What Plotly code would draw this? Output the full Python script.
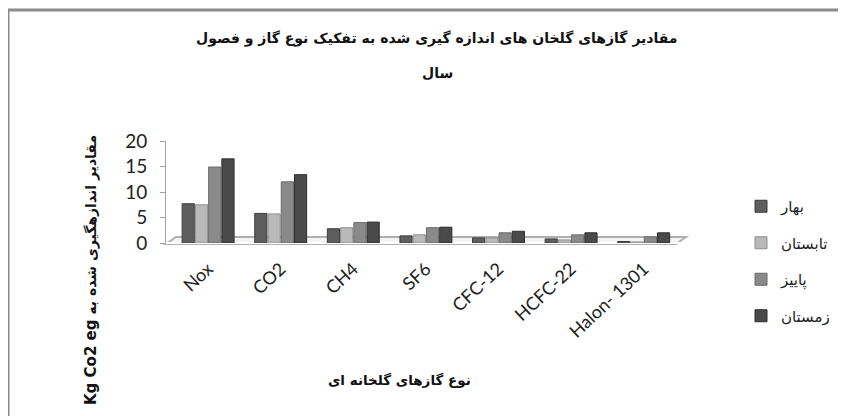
import plotly.graph_objects as go

categories = ["Nox", "CO2", "CH4", "SF6", "CFC-12", "HCFC-22", "Halon- 1301"]
series_names = ["بهار", "تابستان", "پاییز", "زمستان"]
spring = [7.7, 5.8, 2.8, 1.4, 1.0, 0.8, 0.3]
summer = [7.5, 5.7, 3.0, 1.6, 1.0, 0.6, 0.2]
autumn = [14.9, 12.0, 4.0, 3.0, 2.0, 1.6, 1.2]
winter = [16.5, 13.4, 4.1, 3.1, 2.3, 2.0, 2.0]
colors = ["#5e5e5e", "#b9b9b9", "#8a8a8a", "#4a4a4a"]
line_colors = ["#3e3e3e", "#909090", "#6a6a6a", "#2e2e2e"]

W, H = 846, 416
OFF = 8  # page body margin
L, R, T, B = 166 - OFF, 174, 141 - OFF, 181
PW, PH = W - L - R, H - T - B


def wx(x):
    """window pixel x -> paper"""
    return (x - OFF - L) / PW


def wy(y):
    """window pixel y -> paper"""
    return (H - B - (y - OFF)) / PH


fig = go.Figure()
for name, vals, c, lc in zip(series_names, [spring, summer, autumn, winter], colors, line_colors):
    fig.add_trace(go.Bar(
        x=categories, y=vals, name=name, legendgroup=name,
        marker=dict(color=c, line=dict(color=lc, width=1)),
    ))

fig.update_layout(
    width=W, height=H,
    margin=dict(l=L, r=R, t=T, b=B, autoexpand=False),
    paper_bgcolor="white", plot_bgcolor="white",
    barmode="group", bargap=0.27, bargroupgap=0.08,
    showlegend=True,
    legend=dict(x=wx(741), y=wy(190), xanchor="left", yanchor="top",
                font=dict(family="DejaVu Sans", size=15, color="#222"),
                tracegroupgap=14, itemwidth=30, maxheight=300),
    xaxis=dict(showline=False, ticks="", tickangle=-43, range=[-0.58, 6.5],
               ticklabelstandoff=11,
               tickfont=dict(family="Lato, Open Sans", size=18, color="#222")),
    yaxis=dict(range=[0, 20], tickvals=[0, 5, 10, 15, 20], showgrid=False,
               showline=True, linecolor="#a0a0a0", linewidth=1,
               ticks="outside", ticklen=5, tickcolor="#a0a0a0",
               ticklabelstandoff=9,
               tickfont=dict(family="Lato, Open Sans", size=19, color="#222")),
    font=dict(family="DejaVu Sans"),
)

shapes = [
    # outer chart border (cut off at the right and bottom)
    dict(type="rect", xref="paper", yref="paper",
         x0=wx(8), y0=wy(10), x1=wx(900), y1=wy(500),
         line=dict(color="#8a8a8a", width=3), layer="below"),
    # 3D floor
    dict(type="path", xref="paper", yref="paper",
         path=f"M {wx(166)} {wy(244)} L {wx(176)} {wy(237)} L {wx(686)} {wy(237)} L {wx(676)} {wy(244)} Z",
         line=dict(color="#b0b0b0", width=2), fillcolor="#f4f4f4", layer="below"),
]
fig.update_layout(shapes=shapes)

annotations = [
    dict(text="<b>مقادیر گازهای گلخان های اندازه گیری شده به تفکیک نوع گاز و فصول</b>",
         x=wx(437), y=wy(28), xref="paper", yref="paper", showarrow=False,
         font=dict(family="DejaVu Sans", size=14, color="#111")),
    dict(text="<b>سال</b>",
         x=wx(437), y=wy(63), xref="paper", yref="paper", showarrow=False,
         font=dict(family="DejaVu Sans", size=14, color="#111")),
    dict(text="<b>نوع گازهای گلخانه ای</b>",
         x=wx(399), y=wy(390), xref="paper", yref="paper", showarrow=False,
         font=dict(family="DejaVu Sans", size=13.5, color="#111")),
    dict(text="<b><span style='font-size:15px'>Kg Co2 eg</span> مقادیر اندازهگیری شده به</b>",
         x=wx(91), y=wy(133), xref="paper", yref="paper", showarrow=False,
         textangle=-90, xanchor="center", yanchor="top",
         font=dict(family="DejaVu Sans", size=14, color="#111")),
]
fig.update_layout(annotations=annotations)

fig.write_html("out.html")
